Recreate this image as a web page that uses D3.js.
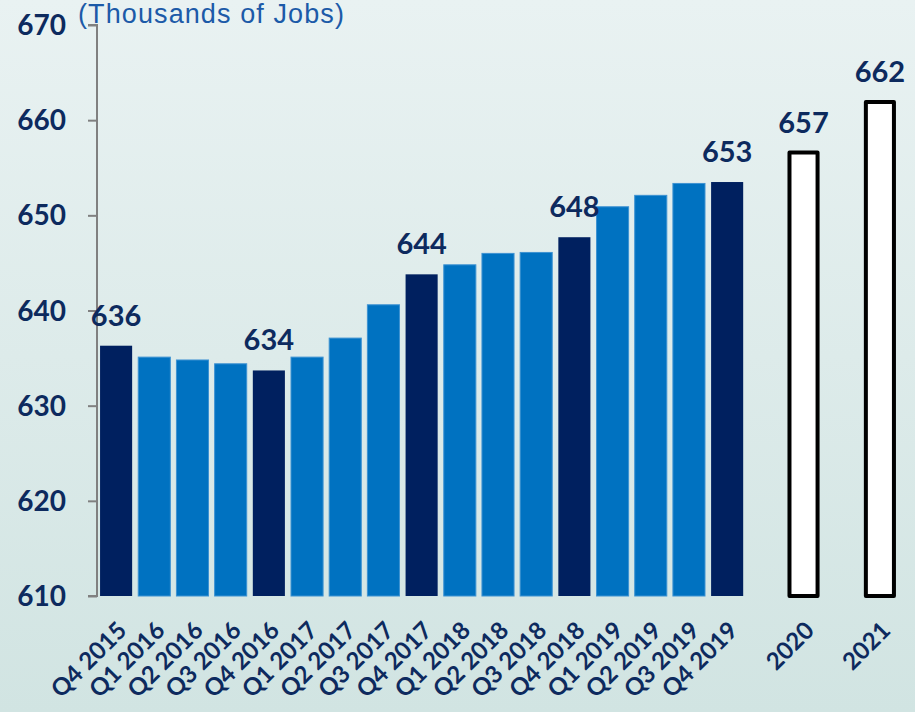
<!DOCTYPE html>
<html>
<head>
<meta charset="utf-8">
<style>
  body { margin: 0; background: #dde9e8; }
  svg { display: block; }
  .num { font-family: Lato, "Open Sans", sans-serif; font-weight: 700; fill: #0d2a5e; }
</style>
<script src="https://d3js.org/d3.v7.min.js"></script>
</head>
<body>
<script>
// quarterly jobs (thousands), then two annual forecasts
const quarters = ["Q4 2015","Q1 2016","Q2 2016","Q3 2016","Q4 2016","Q1 2017","Q2 2017","Q3 2017",
  "Q4 2017","Q1 2018","Q2 2018","Q3 2018","Q4 2018","Q1 2019","Q2 2019","Q3 2019","Q4 2019"];
const quarterValues = [636.3,635.1,634.8,634.4,633.7,635.1,637.1,640.6,
  643.8,644.8,646.0,646.1,647.7,650.9,652.1,653.35,653.5];
const forecastYears = ["2020","2021"];
const forecastValues = [656.6,661.9];
const labelled = ["Q4 2015","Q4 2016","Q4 2017","Q4 2018","Q4 2019","2020","2021"];
const labelText = {"Q4 2015":"636","Q4 2016":"634","Q4 2017":"644","Q4 2018":"648","Q4 2019":"653","2020":"657","2021":"662"};
const yTicks = [610,620,630,640,650,660,670];

const width = 915, height = 712;

const svg = d3.select("body").append("svg")
  .attr("width", width).attr("height", height);

const defs = svg.append("defs");
const grad = defs.append("linearGradient").attr("id", "bg")
  .attr("x1", 0).attr("y1", 0).attr("x2", 0).attr("y2", 1);
grad.append("stop").attr("offset", "0%").attr("stop-color", "#e9f2f2");
grad.append("stop").attr("offset", "100%").attr("stop-color", "#d1e4e2");
svg.append("rect").attr("width", width).attr("height", height).attr("fill", "url(#bg)");

// slots: quarters, gap, 2020, gap, 2021
const slots = quarters.concat(["_g1", "2020", "_g2", "2021"]);

const x = d3.scaleBand().domain(slots).range([97, 899])
  .paddingInner(0.16).paddingOuter(0.08);
const y = d3.scaleLinear().domain([610, 670]).range([596, 25]);

// axis
const axis = svg.append("g").attr("transform", "translate(97,0)")
  .call(d3.axisLeft(y).tickValues(yTicks).tickSize(9).tickFormat(""));
axis.select(".domain").attr("stroke", "#808080").attr("stroke-width", 2)
  .attr("d", `M-9,${y(670)}H0V${y(610)}H-9`);
axis.selectAll(".tick line").attr("stroke", "#808080").attr("stroke-width", 2);

svg.append("g").selectAll("text").data(yTicks).join("text")
  .attr("class", "num")
  .attr("x", 66).attr("y", d => y(d) + 10)
  .attr("text-anchor", "end").attr("font-size", 28)
  .text(d => d);

svg.append("text")
  .attr("x", 78).attr("y", 23)
  .attr("font-family", "Liberation Sans, Arial, sans-serif")
  .attr("font-size", 27).attr("fill", "#1c5aa8")
  .attr("letter-spacing", 1.1)
  .text("(Thousands of Jobs)");

// quarterly bars
svg.append("g").selectAll("rect").data(quarters).join("rect")
  .attr("x", d => x(d)).attr("width", x.bandwidth())
  .attr("y", (d, i) => y(quarterValues[i]))
  .attr("height", (d, i) => y(610) - y(quarterValues[i]))
  .attr("fill", d => d.startsWith("Q4") ? "#00205f" : "#0072c1")
  .attr("stroke", d => d.startsWith("Q4") ? "none" : "#3d92d2")
  .attr("stroke-width", 1);

// forecast bars
const sw = 4;
svg.append("g").selectAll("rect").data(forecastYears).join("rect")
  .attr("x", d => x(d) + sw / 2).attr("width", x.bandwidth() - sw)
  .attr("y", (d, i) => y(forecastValues[i]))
  .attr("height", (d, i) => y(610) - y(forecastValues[i]))
  .attr("fill", "#ffffff").attr("stroke", "#000000")
  .attr("stroke-width", sw).attr("stroke-linejoin", "round");

// value labels
const allVals = {};
quarters.forEach((q, i) => allVals[q] = quarterValues[i]);
forecastYears.forEach((f, i) => allVals[f] = forecastValues[i]);
svg.append("g").selectAll("text").data(labelled).join("text")
  .attr("class", "num")
  .attr("x", d => x(d) + x.bandwidth() / 2)
  .attr("y", d => y(allVals[d]) - 20)
  .attr("text-anchor", "middle").attr("font-size", 29)
  .text(d => labelText[d]);

// category labels
svg.append("g").selectAll("text").data(slots.filter(s => !s.startsWith("_"))).join("text")
  .attr("class", "num")
  .attr("font-size", 24).attr("text-anchor", "end")
  .attr("transform", d => `translate(${x(d) + x.bandwidth() / 2 + 12},${632}) rotate(-45)`)
  .text(d => d);
</script>
</body>
</html>
